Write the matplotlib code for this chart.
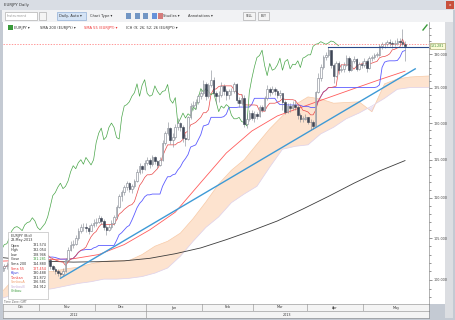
import numpy as np
import pandas as pd
import matplotlib
matplotlib.use('Agg')
import matplotlib.pyplot as plt
from matplotlib.patches import Rectangle
from matplotlib.ticker import FixedLocator, NullFormatter, FuncFormatter

plt.rcParams['font.family'] = 'DejaVu Sans'

# daily bars, FX week days (no Christmas / New Year bar)
dates = pd.bdate_range('2012-10-01', '2013-05-23')
dates = dates.drop([pd.Timestamp('2012-12-25'), pd.Timestamp('2013-01-01')])

first_open = 100.6
close = [
    # Oct
    100.9, 101.3, 101.4, 101.8, 102.1, 101.6, 101.3, 101.1, 101.4, 101.6, 101.8, 102.9,
    103.4, 103.5, 103.7, 103.8, 103.1, 103.3, 103.6, 103.2, 103.1, 103.2, 103.4,
    # Nov
    103.7, 103.0, 102.3, 102.4, 101.6, 101.3, 101.0, 100.8, 100.7, 101.1, 102.4, 103.6,
    104.2, 104.3, 105.0, 105.9, 106.3, 106.4, 106.2, 105.9, 106.6, 106.9,
    # Dec
    107.0, 107.5, 107.1, 106.3, 106.0, 106.4, 106.8, 107.6, 108.9, 110.3, 110.7, 111.4,
    111.9, 111.2, 111.5, 112.2, 113.4, 114.2, 113.8, 114.6,
    # Jan
    115.0, 114.4, 115.3, 114.8, 114.3, 115.0, 117.3, 118.6, 119.3, 117.7, 118.1, 119.4,
    120.0, 119.4, 118.0, 117.8, 120.8, 122.4, 122.6, 123.0, 123.8, 124.3,
    # Feb
    125.6, 123.8, 125.4, 126.2, 124.2, 123.8, 124.0, 125.3, 124.5, 124.0, 124.5, 124.6,
    125.5, 123.3, 122.8, 123.6, 119.9, 120.6, 121.4, 120.7,
    # Mar
    121.3, 121.0, 122.3, 121.9, 123.5, 124.9, 124.4, 124.9, 124.5, 124.0, 124.3, 123.0,
    121.6, 122.4, 122.1, 122.6, 122.3, 121.1, 120.6, 120.6, 120.8,
    # Apr
    120.2, 120.1, 119.6, 124.4, 126.4, 128.1, 129.5, 129.8, 130.6, 128.3, 126.8, 128.6,
    127.6, 127.8, 128.4, 129.4, 127.6, 128.9, 129.2, 127.8, 128.5, 128.4,
    # May
    129.0, 128.0, 129.4, 129.6, 129.9, 129.9, 131.2, 131.5, 131.6, 131.9, 131.7, 131.5,
    131.7, 132.0, 131.9, 131.574, 131.281,
]
high = [
    101.2, 101.5, 101.7, 102.1, 102.4, 102.2, 101.8, 101.5, 101.7, 101.9, 102.1, 103.1,
    103.7, 103.9, 104.6, 104.1, 103.9, 103.7, 104.0, 103.8, 103.4, 103.5, 103.9,
    104.0, 103.9, 103.1, 102.9, 102.6, 101.8, 101.5, 101.3, 101.1, 101.4, 102.6, 103.9,
    104.6, 104.8, 105.4, 106.2, 106.7, 106.8, 106.9, 106.6, 106.9, 107.3,
    107.5, 107.9, 107.7, 107.4, 106.6, 106.7, 107.2, 107.9, 109.1, 110.5, 111.0, 111.7,
    112.2, 112.0, 111.8, 112.5, 113.7, 114.5, 114.3, 114.9,
    115.4, 115.2, 115.6, 115.5, 115.0, 115.3, 117.6, 118.9, 120.1, 119.4, 118.6, 119.8,
    120.7, 120.2, 119.7, 118.5, 121.0, 122.8, 123.1, 123.4, 124.1, 124.8,
    126.1, 125.9, 125.7, 127.7, 126.6, 124.6, 124.5, 125.9, 125.6, 124.9, 124.9, 125.0,
    125.8, 125.7, 123.7, 124.1, 124.0, 121.2, 121.8, 121.8,
    121.7, 121.6, 122.5, 122.6, 123.8, 125.4, 125.2, 125.3, 125.1, 124.8, 124.7, 123.5,
    123.2, 122.9, 122.8, 123.1, 123.3, 122.6, 121.4, 121.0, 121.2,
    120.9, 120.6, 120.4, 124.6, 127.2, 128.5, 129.8, 130.3, 131.1, 130.7, 128.6, 128.9,
    129.0, 128.5, 128.8, 129.8, 129.7, 129.3, 129.7, 129.4, 128.8, 128.9,
    129.4, 129.2, 129.7, 129.9, 130.2, 130.4, 131.5, 131.8, 131.9, 132.2, 132.3, 132.0,
    132.1, 132.4, 132.5, 133.8, 132.054,
]
low = [
    100.3, 100.7, 101.0, 101.2, 101.6, 101.3, 101.0, 100.8, 100.9, 101.1, 101.3, 101.7,
    102.7, 103.1, 103.3, 103.4, 102.8, 102.9, 103.1, 102.9, 102.7, 102.8, 103.0,
    103.2, 102.7, 102.0, 101.9, 101.3, 101.0, 100.7, 100.5, 100.3, 100.5, 100.9, 102.2,
    103.4, 103.8, 104.1, 104.8, 105.6, 105.9, 105.7, 105.5, 105.8, 106.3,
    106.5, 106.8, 106.7, 106.0, 105.4, 105.9, 106.1, 106.6, 107.4, 108.7, 109.6, 110.4,
    111.0, 110.7, 110.6, 111.3, 112.0, 113.1, 113.3, 113.6,
    114.3, 113.9, 114.2, 114.4, 113.9, 114.1, 114.8, 117.0, 118.3, 117.1, 116.7, 117.8,
    119.1, 118.9, 117.4, 116.8, 117.6, 120.5, 121.9, 122.0, 122.7, 123.4,
    124.0, 123.3, 123.5, 125.1, 123.8, 122.9, 123.0, 123.7, 124.0, 123.3, 123.4, 124.0,
    124.3, 122.9, 122.2, 122.5, 119.4, 119.3, 120.3, 120.4,
    120.2, 120.5, 120.8, 121.5, 121.7, 123.3, 123.9, 124.1, 124.0, 123.6, 123.6, 121.9,
    121.3, 121.4, 121.6, 121.8, 121.8, 120.6, 120.1, 120.1, 120.4,
    119.8, 119.0, 119.2, 119.4, 124.2, 126.0, 127.8, 129.1, 129.6, 127.9, 125.7, 126.6,
    127.0, 127.3, 127.4, 128.2, 127.4, 127.5, 128.6, 127.5, 127.6, 127.9,
    128.1, 127.4, 127.8, 129.0, 129.2, 129.5, 129.7, 130.8, 131.0, 131.2, 131.3, 131.0,
    131.2, 131.4, 131.4, 131.2, 128.946,
]

# slow lines, one value every 10 bars from bar 6
sma200 = [102.7, 102.4, 102.2, 102.1, 102.15, 102.25, 102.55, 103.1, 103.8, 104.8,
          105.9, 107.1, 108.6, 110.2, 111.9, 113.5, 114.88]
sma55 = [102.2, 102.3, 102.4, 102.5, 103.0, 104.2, 106.0, 108.2, 112.0, 115.9,
         118.9, 121.0, 122.3, 123.6, 124.9, 126.2, 127.454]

# ichimoku cloud, one value every 5 bars from bar 8 (runs 26 bars past the last candle)
senkou_a = [98.6, 100.2, 100.9, 101.0, 101.0, 101.3, 101.5, 101.9, 102.2, 102.3, 102.3,
            103.0, 104.0, 104.6, 105.6, 107.4, 109.5, 111.8, 113.6, 115.0, 117.1, 119.2,
            121.0, 122.6, 123.7, 123.4, 122.8, 122.9, 123.0, 121.6, 125.6, 126.3, 126.6,
            126.7, 126.8]
senkou_b = [97.9, 98.3, 98.6, 98.8, 99.0, 99.3, 99.6, 99.8, 100.1, 100.1, 100.2,
            100.4, 100.8, 101.4, 102.8, 104.6, 106.3, 107.6, 109.4, 110.5, 111.5, 114.0,
            116.4, 116.8, 117.0, 118.5, 119.4, 120.6, 121.4, 122.4, 123.5, 124.8, 125.05,
            125.05, 125.05]

trend_bars = [31, 170]
trend_price = [100.2, 127.8]
resistance = 131.1
resistance_from = '2013-04-11'
bid_line = 131.6

data_window = [('Open', '131.574', '#333333', '#333333'),
               ('High', '132.054', '#333333', '#333333'),
               ('Low', '128.946', '#333333', '#333333'),
               ('Close', '131.281', '#333333', '#3a9a3a'),
               ('Sma 200', '114.880', '#333333', '#333333'),
               ('Sma 55', '127.454', '#ee3333', '#ee3333'),
               ('Kijun', '130.488', '#3333dd', '#333333'),
               ('Tenkan', '131.872', '#ee3333', '#333333'),
               ('SenkouA', '126.581', '#f0a070', '#333333'),
               ('SenkouB', '124.912', '#c8b0d8', '#333333'),
               ('Chikou', '', '#3a9a3a', '#333333')]

W, H = 455, 320
fig = plt.figure(figsize=(W / 100, H / 100), dpi=100, facecolor='#c4cad3')


def box(x, y, w, h, **kw):
    fig.add_artist(Rectangle((x / W, 1 - (y + h) / H), w / W, h / H,
                             transform=fig.transFigure, **kw))


def label(x, y, s, **kw):
    kw.setdefault('fontsize', 2.8)
    kw.setdefault('va', 'center')
    kw.setdefault('color', '#333333')
    fig.text(x / W, 1 - y / H, s, **kw)


# window chrome
box(0, 0, W, 10, color='#d9dde4', lw=0)
label(4, 5, 'EURJPY Daily', fontsize=2.8)
box(446, 1, 8, 8, color='#c8503c', lw=0)
label(450, 5, 'x', color='white', fontsize=3, ha='center')
box(2, 10, 451, 12, color='#f1f2f4', lw=0)
box(5, 12, 32, 8, facecolor='white', edgecolor='#a0a0a0', lw=0.4)
label(7, 16, 'Instrument', color='#999999', fontsize=2.6)
box(39, 12, 7, 8, facecolor='#f4f4f4', edgecolor='#a0a0a0', lw=0.4)
box(57, 12, 29, 8, facecolor='#d4e3f5', edgecolor='#7fa2cf', lw=0.4)
label(59, 16, 'Daily, Auto \u25be', fontsize=2.6)
label(90, 16, 'Chart Type \u25be', fontsize=2.6)
for xi, c in zip([126, 135, 143, 152, 158], ['#3c6fb0', '#3c6fb0', '#3c6fb0', '#2a6ad0', '#c84a4a']):
    box(xi, 13, 5, 6, color=c, lw=0, alpha=0.7)
label(163, 16, 'Studies \u25be', fontsize=2.6)
label(188, 16, 'Annotations \u25be', fontsize=2.6)
box(243, 12, 12, 8, facecolor='#f4f4f4', edgecolor='#a0a0a0', lw=0.4)
label(249, 16, 'SELL', fontsize=2.2, ha='center')
box(258, 12, 11, 8, facecolor='#f4f4f4', edgecolor='#a0a0a0', lw=0.4)
label(263.5, 16, 'BUY', fontsize=2.2, ha='center')

# white strip behind the price scale
box(429, 22, 16, 282, color='white', lw=0, zorder=-1)
box(445, 22, 8, 296, color='#dcdee2', lw=0, zorder=-1)

# price panel
ax = fig.add_axes([3 / W, 16 / H, 426 / W, 282 / H])
ax.set_facecolor('white')
x = np.arange(len(close))
opens = np.array([first_open] + close[:-1])
cl = np.array(close)
hi = np.array(high)
lo = np.array(low)

cx = np.arange(8, 8 + 5 * len(senkou_a), 5)
sa = np.array(senkou_a)
sb = np.array(senkou_b)
ax.fill_between(cx, sa, sb, where=sa >= sb, interpolate=True, color='#fde3cf', lw=0, zorder=1)
ax.fill_between(cx, sa, sb, where=sa < sb, interpolate=True, color='#ece2f2', lw=0, zorder=1)
ax.plot(cx, sa, color='#f8cba8', lw=0.5, zorder=1)
ax.plot(cx, sb, color='#ddd0ea', lw=0.5, zorder=1)

sx = np.arange(6, 6 + 10 * len(sma200), 10)
ax.plot(sx, sma200, color='#3c3c3c', lw=0.6, zorder=2)
ax.plot(sx, sma55, color='#ff5c5c', lw=0.6, zorder=2)
ax.plot(trend_bars, trend_price, color='#3e9ad6', lw=1.0, zorder=3)

hs, ls = pd.Series(hi), pd.Series(lo)
tenkan = (hs.rolling(9).max() + ls.rolling(9).min()) / 2
kijun = (hs.rolling(26).max() + ls.rolling(26).min()) / 2
ax.plot(x, kijun, color='#5c5cff', lw=0.6, zorder=3)
ax.plot(x, tenkan, color='#e84848', lw=0.5, zorder=3)
ax.plot(x - 26, cl, color='#4aa64a', lw=0.5, zorder=3)

up = cl >= opens
ax.vlines(x, lo, hi, color='#80868f', lw=0.4, zorder=4)
body_lo = np.minimum(opens, cl)
body_h = np.maximum(np.abs(cl - opens), 0.06)
ax.bar(x[up], body_h[up], bottom=body_lo[up], width=0.62, facecolor='white',
       edgecolor='#7c828c', lw=0.4, zorder=5)
ax.bar(x[~up], body_h[~up], bottom=body_lo[~up], width=0.62, facecolor='#3d4555',
       edgecolor='#3d4555', lw=0.4, zorder=5)

x_lo, x_hi = 8.5, 175.4
res_x = dates.get_loc(pd.Timestamp(resistance_from))
ax.plot([res_x, x_hi], [resistance, resistance], color='#2a4a8a', lw=0.8, zorder=6)
ax.axhline(bid_line, color='#ff7070', lw=0.5, dashes=(2, 2), zorder=6)

ax.set_yscale('log')
ax.set_ylim(97.25, 134.95)
ax.set_xlim(x_lo, x_hi)
ax.set_xticks([])
ax.yaxis.tick_right()
ax.yaxis.set_major_locator(FixedLocator(np.arange(100, 136, 5)))
ax.yaxis.set_major_formatter(FuncFormatter(lambda v, _: f'{v:.3f}'))
ax.yaxis.set_minor_locator(FixedLocator(np.arange(98, 135, 1)))
ax.yaxis.set_minor_formatter(NullFormatter())
ax.tick_params(axis='y', which='major', length=2.5, width=0.4, pad=1, labelsize=2.4,
               colors='#444444')
ax.tick_params(axis='y', which='minor', length=1.2, width=0.4, colors='#444444')
for side in ['top', 'left', 'bottom']:
    ax.spines[side].set_visible(False)
ax.spines['right'].set_color('#777777')
ax.spines['right'].set_linewidth(0.4)

# legend row in the panel
box(8, 25, 5, 5, color='#3a9a3a', lw=0)
label(14, 27.5, 'EURJPY \u25be', fontsize=2.6)
label(40, 27.5, 'SMA 200 (EURJPY) \u25be', fontsize=2.6)
label(84, 27.5, 'SMA 55 (EURJPY) \u25be', fontsize=2.6, color='#ee3333')
label(126, 27.5, 'ICH (9; 26; 52; 26 (EURJPY) \u25be', fontsize=2.6)
fig.add_artist(plt.Line2D([423 / W, 427 / W], [1 - 30 / H, 1 - 25 / H], color='#3a9a3a',
                          lw=1.0, transform=fig.transFigure))

# last price tag
box(430, 43, 15, 6, facecolor='#fbfbd6', edgecolor='#9a9a5a', lw=0.4)
label(437.5, 46, '131.281', fontsize=2.3, color='#3a8a3a', ha='center')

# data window
box(8, 232, 40, 67, facecolor='white', edgecolor='#b0b0b0', lw=0.4)
label(11, 235.5, 'EURJPY (Bid)', fontsize=2.4)
label(11, 240.3, '23-May-2013', fontsize=2.4)
for k, (name, val, c1, c2) in enumerate(data_window):
    yy = 245.5 + k * 4.6
    label(11, yy, name, fontsize=2.4, color=c1)
    label(46, yy, val, fontsize=2.4, color=c2, ha='right')
label(4, 302, 'Time Zone: GMT', fontsize=2.0, color='#666666')

# month / year rows
axm = fig.add_axes([3 / W, 9 / H, 426 / W, 7 / H])
axy = fig.add_axes([3 / W, 2 / H, 426 / W, 7 / H])
months = dates.to_period('M')
starts = [0] + [i for i in range(1, len(dates)) if months[i] != months[i - 1]]
edges = [x_lo] + [s - 0.5 for s in starts[1:]] + [x_hi]
names = [dates[s].strftime('%b') for s in starts]
for a in (axm, axy):
    a.set_xlim(x_lo, x_hi)
    a.set_ylim(0, 1)
    a.set_facecolor('#f4f4f4')
    a.set_xticks([])
    a.set_yticks([])
    for sp in a.spines.values():
        sp.set_color('#8a8a8a')
        sp.set_linewidth(0.4)
for e in edges[1:-1]:
    axm.axvline(e, color='#8a8a8a', lw=0.4)
for left, right, nm in zip(edges[:-1], edges[1:], names):
    axm.text((left + right) / 2, 0.5, nm, ha='center', va='center', fontsize=2.4, color='#333333')
year_edge = [e for e, s in zip(edges[1:], starts[1:]) if dates[s].month == 1][0]
axy.axvline(year_edge, color='#8a8a8a', lw=0.4)
axy.text((x_lo + year_edge) / 2, 0.5, '2012', ha='center', va='center', fontsize=2.4, color='#333333')
axy.text((year_edge + x_hi) / 2, 0.5, '2013', ha='center', va='center', fontsize=2.4, color='#333333')

fig.savefig('out.png', dpi=100, facecolor=fig.get_facecolor())
